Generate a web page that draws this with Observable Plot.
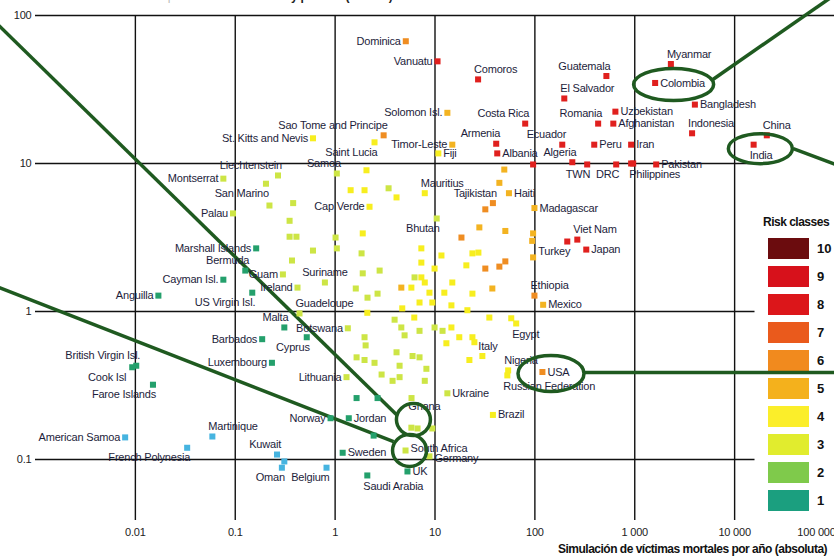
<!DOCTYPE html>
<html><head><meta charset="utf-8">
<script src="https://cdn.jsdelivr.net/npm/d3@7"></script>
<script src="https://cdn.jsdelivr.net/npm/@observablehq/plot@0.6"></script>
<style>
body{margin:0;background:#fff;}
#wrap{position:relative;width:834px;height:558px;overflow:hidden;background:#fff;
 font-family:"Liberation Sans",Arial,sans-serif;}
#chart{position:absolute;left:0;top:0;z-index:1;}
#chart svg{background:transparent;}
#legend{position:absolute;left:764px;top:215px;z-index:0;}
#legend .lt{font-weight:bold;font-size:12px;color:#111;margin-bottom:5px;margin-left:-1px;white-space:nowrap;letter-spacing:-0.5px;}
#legend .row{display:flex;align-items:center;height:28px;}
#legend .sw{width:41px;height:21px;margin-left:4px;}
#legend .num{font-weight:bold;font-size:13px;margin-left:8px;color:#111;}
#title{position:absolute;left:2px;top:-11px;font-size:12px;white-space:nowrap;z-index:2;letter-spacing:-0.3px;}
#xtitle{position:absolute;left:558px;top:542px;font-size:12px;font-weight:bold;white-space:nowrap;color:#111;z-index:2;letter-spacing:-0.5px;}
</style></head>
<body>
<div id="wrap">
  <div id="title"><span style="color:#bbb">Simulación de víctimas mortales por millón de habitantes</span> <b style="color:#222">y por año (relativa)</b></div>
  <div id="legend"></div>
  <div id="chart"></div>
  <div id="xtitle">Simulación de víctimas mortales por año (absoluta)</div>
</div>
<script>
// ---------- data ----------
const xTicks = [0.01, 0.1, 1, 10, 100, 1000, 10000, 100000];
const xTickLabels = ["0.01", "0.1", "1", "10", "100", "1 000", "10 000", "100 000"];
const yTicks = [0.1, 1, 10, 100];
const yTickLabels = ["0.1", "1", "10", "100"];
const riskClasses = [10, 9, 8, 7, 6, 5, 4, 3, 2, 1];
const legendColors = {10:"#6b0c0e", 9:"#d7111b", 8:"#dc161a", 7:"#ea5a1c", 6:"#f18a1e", 5:"#f4b11c", 4:"#fbee2a", 3:"#e1ec2e", 2:"#7fca4b", 1:"#1b9f7f"};
const pointColors  = {10:"#6b0c0e", 9:"#cf1418", 8:"#e0201e", 7:"#ea5a1d", 6:"#ef8d22", 5:"#f3b321", 4:"#f7ee1f", 3:"#cde545", 2:"#24a06c", 1:"#46b4e0"};

// labelled countries: [name, absolute deaths/yr, relative deaths/yr, risk class]
const labeledPoints = [
 ["Dominica",5.1,67,6],["Vanuatu",10.6,49,8],["Comoros",27,37,8],["Guatemala",520,39,8],
 ["El Salvador",197,27.5,8],["Myanmar",2300,47,8],["Colombia",1600,35,8],["Bangladesh",4000,25,8],
 ["Indonesia",3750,16,8],["China",21000,15.5,8],["India",15500,13.4,8],["Solomon Isl.",13.3,22,5],
 ["Costa Rica",80,18.6,8],["Romania",430,18.6,8],["Uzbekistan",640,22.4,8],["Afghanistan",610,18.6,8],
 ["Armenia",41,13.6,8],["Albania",42,11.7,8],["Ecuador",188,13.4,8],["Algeria",237,10.2,8],
 ["Peru",393,13.4,8],["Iran",920,13.4,8],["Pakistan",1640,9.85,8],["TWN",334,9.85,8],
 ["DRC",652,9.85,8],["Philippines",964,10,8],["Timor-Leste",14.9,13.4,5],["Fiji",10.8,11.7,4],
 ["Sao Tome and Principe",3.06,15.5,6],["Saint Lucia",2.48,13.9,4],["St. Kitts and Nevis",0.6,14.8,4],
 ["Samoa",1.04,8.56,3],["Liechtenstein",0.268,8.3,3],["Montserrat",0.076,7.9,3],["San Marino",0.203,7.3,3],
 ["Palau",0.095,4.6,3],["Cap Verde",2.21,5.1,4],["Mauritius",7.9,6.3,4],["Tajikistan",38,5.4,6],
 ["Haiti",55,6.3,5],["Bhutan",10.4,4.25,3],["Madagascar",99,5.0,5],["Viet Nam",266,3.06,8],
 ["Turkey",211,2.97,8],["Japan",327,2.62,8],["Ethiopia",99,1.28,6],["Mexico",121,1.11,5],
 ["Egypt",65,0.83,4],["Italy",29.8,0.5,4],["Nigeria",54,0.4,4],["Russian Federation",53,0.37,4],
 ["USA",119,0.39,6],["Ukraine",13.3,0.28,3],["Brazil",38,0.2,4],["Ghana",5.8,0.164,3],
 ["South Africa",5.07,0.115,3],["Germany",8.8,0.105,3],["UK",5.3,0.083,2],["Saudi Arabia",2.1,0.078,2],
 ["Sweden",1.19,0.111,2],["Jordan",1.37,0.19,2],["Norway",0.9,0.19,2],["Belgium",0.82,0.088,1],
 ["Oman",0.293,0.088,1],["Kuwait",0.262,0.108,1],["Martinique",0.059,0.143,1],["French Polynesia",0.033,0.12,1],
 ["American Samoa",0.0079,0.141,1],["British Virgin Isl.",0.0102,0.43,2],["Cook Isl",0.0093,0.42,2],
 ["Faroe Islands",0.015,0.32,2],["Anguilla",0.017,1.28,2],["Cayman Isl.",0.076,1.64,2],
 ["US Virgin Isl.",0.148,1.34,2],["Marshall Islands",0.162,2.67,2],["Bermuda",0.126,1.89,2],
 ["Guam",0.30,1.78,3],["Ireland",0.42,1.45,3],["Suriname",0.79,1.57,3],["Guadeloupe",0.44,0.97,3],
 ["Malta",0.31,0.78,2],["Botswana",1.34,0.77,3],["Cyprus",0.52,0.67,2],["Barbados",0.186,0.65,2],
 ["Luxembourg",0.233,0.45,2],["Lithuania",1.3,0.36,3]
];

// unlabelled countries: [absolute, relative, risk class]
const unlabeledPoints = [
 [96,9.85,8],[920,10,8],
 [2.06,9.0,4],[1.43,6.6,4],[1.97,6.6,4],[4.12,5.9,4],[1.89,3.37,4],[7.3,2.67,4],[7.3,2.14,4],
 [11.6,2.39,4],[23.7,2.47,4],[27.2,2.5,4],[20.6,2.05,4],[9.9,1.95,4],[7.3,1.7,4],[7.9,1.57,4],
 [14.9,1.57,4],[23.7,1.32,4],[12.4,1.34,4],[8.8,1.34,4],[9.4,1.15,4],[14.6,1.1,4],[21.1,1.02,4],
 [35,0.91,4],[58,0.9,4],[4.6,1.45,5],[5.8,1.45,4],[4.7,1.05,4],[6.2,0.91,4],[7.0,1.15,4],
 [2.1,0.98,4],[17.5,0.67,4],[23.7,0.67,4],[24.8,0.62,4],[13,0.61,4],[22.1,0.47,4],[14.6,0.78,4],
 [3.43,6.8,3],[0.38,5.4,3],[0.22,5.2,3],[0.35,4.1,3],[0.35,3.2,3],[0.41,3.2,3],[1.01,3.16,3],
 [1.04,2.67,3],[0.6,2.58,3],[0.37,2.21,3],[1.84,2.47,3],[2.79,1.89,3],[1.89,1.81,3],[1.61,1.43,3],
 [2.11,1.24,3],[2.66,1.32,3],[6.24,1.7,3],[3.94,0.88,3],[1.97,0.67,3],[4.96,0.69,3],[2.02,0.59,3],
 [1.64,0.49,3],[1.97,0.47,3],[2.48,0.45,3],[2.92,0.375,3],[3.76,0.34,3],[4.42,0.36,3],[4.12,0.53,3],
 [5.96,0.5,3],[4.42,0.43,3],[8.2,0.41,3],[7.9,0.34,3],[5.82,0.26,3],[7.0,0.74,3],[9.9,0.78,3],
 [11.9,0.74,3],[7.0,0.49,3],[6.69,0.162,3],[9.4,0.162,3],[4.6,0.78,3],
 [1.64,0.26,2],[2.66,0.26,2],[2.43,0.145,2],
 [31.9,4.9,6],[44.1,7.4,5],[49.4,9.1,5],[27.8,3.7,5],[18.4,3.16,6],[50.6,3.5,5],[31.9,1.95,6],
 [44.1,2.01,6],[50.6,2.18,6],[37.5,1.43,5],[96,3.37,5],[94,3.0,5],[96,2.32,5],
 [0.31,0.097,1]
];

// where each country name sits relative to its square
const labelSide = {
 "Dominica":"L","Vanuatu":"L","Comoros":"AR","Guatemala":"AL","El Salvador":"AR","Myanmar":"AR",
 "Colombia":"R","Bangladesh":"R","Indonesia":"AR","China":"AR","India":"BR","Solomon Isl.":"L",
 "Costa Rica":"AL","Romania":"AL","Uzbekistan":"R","Afghanistan":"R","Armenia":"AL","Albania":"R",
 "Ecuador":"AL","Algeria":"AL","Peru":"R","Iran":"R","Pakistan":"R","TWN":"BL","DRC":"BL",
 "Philippines":"BR","Timor-Leste":"L","Fiji":"R","Sao Tome and Principe":"AL","Saint Lucia":"BL",
 "St. Kitts and Nevis":"L","Samoa":"AL","Liechtenstein":"AL","Montserrat":"L","San Marino":"BL",
 "Palau":"L","Cap Verde":"L","Mauritius":"AR","Tajikistan":"AL","Haiti":"R","Bhutan":"BL",
 "Madagascar":"R","Viet Nam":"AR","Turkey":"BL","Japan":"R","Ethiopia":"AR","Mexico":"R",
 "Egypt":"BR","Italy":"AR","Nigeria":"AR","Russian Federation":"BR","USA":"R","Ukraine":"R",
 "Brazil":"R","Ghana":"AH","South Africa":"RU","Germany":"RD","UK":"R","Saudi Arabia":"BR",
 "Sweden":"R","Jordan":"R","Norway":"L","Belgium":"BL","Oman":"BL","Kuwait":"AL","Martinique":"AR",
 "French Polynesia":"BL","American Samoa":"L","British Virgin Isl.":"AL","Cook Isl":"BX",
 "Faroe Islands":"BL","Anguilla":"L","Cayman Isl.":"L","US Virgin Isl.":"BL","Marshall Islands":"L",
 "Bermuda":"AL","Guam":"L","Ireland":"L","Suriname":"AM","Guadeloupe":"AR","Malta":"AL",
 "Botswana":"L","Cyprus":"BL","Barbados":"L","Luxembourg":"L","Lithuania":"L"
};

// highlighted countries (ellipse centres, data units) and leader lines to the cropped photos
const highlights = [
 {x:2450, y:34.2, rx:40, ry:16},
 {x:18100, y:12.6, rx:32, ry:15},
 {x:145, y:0.381, rx:33, ry:18},
 {x:6.08, y:0.186, rx:17, ry:16},
 {x:5.56, y:0.115, rx:17, ry:16}
];
const leaderLines = [
 {x1:5860, y1:36.4, x2:108600, y2:143},
 {x1:38600, y1:12.6, x2:108600, y2:9.7},
 {x1:310, y1:0.387, x2:108600, y2:0.387},
 {x1:0.0004, y1:89.7, x2:4.2, y2:0.198},
 {x1:0.0004, y1:1.48, x2:3.85, y2:0.132}
];
const gridRightEnd = 16000;

// ---------- build ----------
const pts = labeledPoints.map(([name,x,y,cls]) => ({name,x,y,cls}))
  .concat(unlabeledPoints.map(([x,y,cls]) => ({name:null,x,y,cls})));

const placements = {
 L:{textAnchor:"end",dx:-5,dy:0}, R:{textAnchor:"start",dx:5,dy:0},
 RU:{textAnchor:"start",dx:5,dy:-2}, RD:{textAnchor:"start",dx:5,dy:2},
 AL:{textAnchor:"end",dx:4,dy:-10}, AR:{textAnchor:"start",dx:-4,dy:-10},
 BL:{textAnchor:"end",dx:3,dy:10}, BR:{textAnchor:"start",dx:-4,dy:11},
 BX:{textAnchor:"end",dx:-6,dy:10}, AM:{textAnchor:"middle",dx:0,dy:-10},
 AH:{textAnchor:"start",dx:-3,dy:-21}
};

function ellipseSymbol(rx, ry) {
  const k = 0.5523, kx = rx*k, ky = ry*k;
  return {draw(c) {
    c.moveTo(-rx,0);
    c.bezierCurveTo(-rx,-ky,-kx,-ry,0,-ry);
    c.bezierCurveTo(kx,-ry,rx,-ky,rx,0);
    c.bezierCurveTo(rx,ky,kx,ry,0,ry);
    c.bezierCurveTo(-kx,ry,-rx,ky,-rx,0);
    c.closePath();
  }};
}

const fontFam = '"Liberation Sans",Arial,sans-serif';
const labelMarks = Object.entries(placements).map(([code,opt]) =>
  Plot.text(pts.filter(d => d.name && (labelSide[d.name] || "R") === code),
    {x:"x", y:"y", text:"name", ...opt, fontSize:11, fill:"#1d1d3b", fontFamily:fontFam}));

const ellipseMarks = highlights.map(h =>
  Plot.dot([h], {x:"x", y:"y", r:1, symbol:ellipseSymbol(h.rx, h.ry), fill:"none", stroke:"#1f5a20", strokeWidth:3.5}));

const chart = Plot.plot({
  width: 834, height: 558,
  marginLeft: 35, marginRight: 0, marginTop: 15, marginBottom: 38,
  x: {type:"log", domain:[0.001, 100000]},
  y: {type:"log", domain:[0.0387, 100]},
  color: {type:"identity"},
  style: {fontFamily: fontFam, background:"transparent", overflow:"hidden", letterSpacing:"-0.2px"},
  marks: [
    Plot.ruleX(xTicks.slice(0, -1), {stroke:"#111", strokeWidth:1.4}),
    Plot.ruleY([100], {stroke:"#111", strokeWidth:1.4}),
    Plot.ruleY(yTicks.slice(0, -1), {x1:0.001, x2:gridRightEnd, stroke:"#111", strokeWidth:1.4}),
    Plot.axisX(xTicks.slice(0, -1), {tickSize:0, tickPadding:8, fontSize:11, fill:"#222",
      tickFormat: d => xTickLabels[xTicks.indexOf(d)], label:null}),
    Plot.axisX(xTicks.slice(-1), {tickSize:0, tickPadding:8, fontSize:11, fill:"#222", dx:-18,
      tickFormat: d => xTickLabels[xTicks.indexOf(d)], label:null}),
    Plot.axisY(yTicks, {tickSize:0, tickPadding:4, fontSize:11, fill:"#222",
      tickFormat: d => yTickLabels[yTicks.indexOf(d)], label:null}),
    Plot.link(leaderLines, {x1:"x1", y1:"y1", x2:"x2", y2:"y2", stroke:"#1f5a20", strokeWidth:3.5}),
    Plot.dot(pts, {x:"x", y:"y", symbol:"square", r:3.4, fill: d => pointColors[d.cls]}),
    ...labelMarks,
    ...ellipseMarks
  ]
});
document.getElementById("chart").appendChild(chart);

// legend
const lg = document.getElementById("legend");
lg.innerHTML = '<div class="lt">Risk classes</div>' + riskClasses.map(c =>
  `<div class="row"><div class="sw" style="background:${legendColors[c]}"></div><div class="num">${c}</div></div>`).join("");
</script>
</body></html>
